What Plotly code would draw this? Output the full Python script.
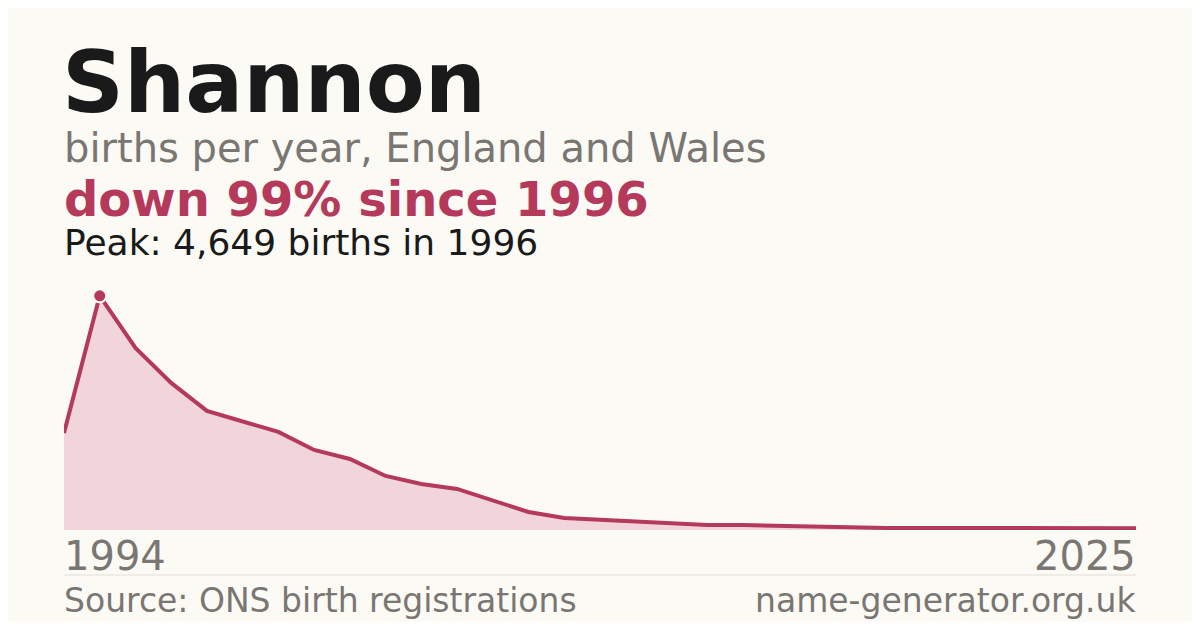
import plotly.graph_objects as go

years = list(range(1995, 2026))
births = [1927, 4649, 3616, 2921, 2365, 2146, 1947, 1590, 1411, 1073, 914, 815, 596, 358, 238,
          199, 159, 139, 99, 99, 80, 60, 60, 40, 40, 40, 40, 35, 35, 35, 35]
peak_year, peak_value = 1996, 4649

bg = "#fbfaf5"
red = "#b5395a"
grey = "#7a7672"
font = "DejaVu Sans"

# page body has an 8px margin, so the figure is 1184x614 placed at (8, 8)
W, H, OFF = 1184, 614, 8

def px(x):
    return (x - OFF) / W

def py(y):
    return 1 - (y - OFF) / H

fig = go.Figure()
fig.add_trace(go.Scatter(x=years, y=births, mode="lines", fill="tozeroy",
                         fillcolor="#f2d5db", line=dict(color=red, width=4),
                         hoverinfo="skip"))
fig.add_trace(go.Scatter(x=[peak_year], y=[peak_value], mode="markers",
                         marker=dict(color=red, size=13, line=dict(color=bg, width=2))))

fig.update_layout(
    width=W, height=H, paper_bgcolor=bg, plot_bgcolor=bg, showlegend=False,
    margin=dict(l=0, r=0, t=0, b=0),
    xaxis=dict(domain=[px(64), px(1136)], range=[1995, 2025], visible=False),
    yaxis=dict(domain=[py(530), py(290)], range=[0, peak_value * 1.025], visible=False),
    font=dict(family=font),
)

def txt(x, y, s, size, color, anchor="left"):
    fig.add_annotation(x=px(x), y=py(y), xref="paper", yref="paper", text=s,
                       showarrow=False, xanchor=anchor, yanchor="middle",
                       font=dict(size=size, color=color, family=font))

txt(60, 82, "<b>Shannon</b>", 86, "#1a1a1a")
txt(62, 148, "births per year, England and Wales", 40, grey)
txt(62, 199, "<b>down 99% since 1996</b>", 48, red)
txt(62, 243, "Peak: 4,649 births in 1996", 36, "#1a1a1a")
txt(62, 556, "1994", 40, grey)
txt(1138, 556, "2025", 40, grey, anchor="right")
txt(62, 600, "Source: ONS birth registrations", 33, grey)
txt(1138, 600, "name-generator.org.uk", 33, grey, anchor="right")
fig.add_shape(type="line", xref="paper", yref="paper", x0=px(64), x1=px(1136),
              y0=py(575), y1=py(575), line=dict(color="#e2ded6", width=1))

fig.write_html("out.html")
